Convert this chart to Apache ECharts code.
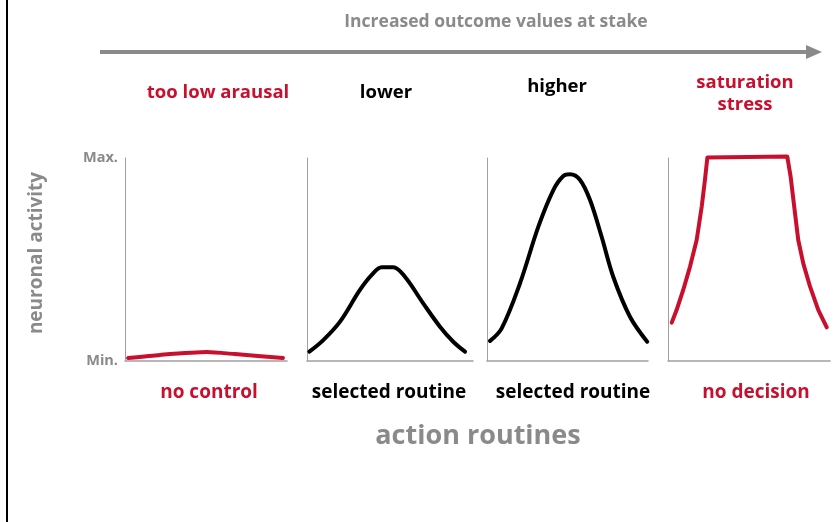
<!DOCTYPE html>
<html><head><meta charset="utf-8">
<script src="https://cdn.jsdelivr.net/npm/echarts@6/dist/echarts.min.js"></script>
<style>html,body{margin:0;padding:0;background:#fff}#c{width:837px;height:522px}</style>
</head><body><div id="c"></div>
<script>
// ---- data ----
const topLabels = ['too low arausal', 'lower', 'higher', 'saturation\nstress'];
const bottomLabels = ['no control', 'selected routine', 'selected routine', 'no decision'];
const yTickLabels = ['Min.', 'Max.'];
const panel1 = [[1.9,1.5],[21.6,3.0],[50.6,4.4],[67.9,3.4],[97.5,1.5]];
const panel2 = [[1.4,4.6],[9.8,10.3],[19.9,19.4],[31.9,35],[39,42.4],[45,46.2],[52,46.2],[59,41.5],[70,28.4],[80.1,16.9],[88.1,9.5],[95.2,4.6]];
const panel3 = [[1.9,9.9],[9.1,16.1],[20.5,38.3],[31.9,66.2],[41.2,84.2],[47.4,91.1],[51.6,92],[57.8,89.2],[64,79.3],[71.2,61.2],[78.4,41.5],[88.8,21.8],[99.5,9.5]];
const panel4 = [[2.3,18.9],[5.3,25.1],[9.4,35.0],[13.6,46.5],[17.7,59.6],[20.8,76.0],[22.8,89.2],[24.3,100.2],[73.6,100.8],[75.7,90.8],[78.4,72.8],[80.4,59.6],[83.5,48.1],[87.7,36.6],[92.8,25.1],[98.0,16.6]];
const panels = [panel1, panel2, panel3, panel4];

// ---- style ----
const RED = '#c8102e', GRAY = '#8a8a8d', AXIS = '#a0a0a0';
const FONT = 'Open Sans';
const lineColors = [RED, '#000', '#000', RED];
const smooths = [0.2, 0.35, 0.35, false];
const grids = [
  {left:125, width:162, top:158, height:203},
  {left:307, width:166, top:158, height:203},
  {left:487, width:161, top:158, height:203},
  {left:668, width:162, top:158, height:203}
];
const topPos = [[218,93],[386,93],[557,87],[745,94]];
const botPos = [209,389,573,756];

const chart = echarts.init(document.getElementById('c'), null, {renderer:'canvas'});
const option = {
  animation:false,
  grid: grids,
  xAxis: grids.map((g,i)=>({gridIndex:i,type:'value',min:0,max:100,
    axisLine:{show:true,lineStyle:{color:AXIS,width:1.5}},axisTick:{show:false},axisLabel:{show:false},splitLine:{show:false}})),
  yAxis: grids.map((g,i)=>({gridIndex:i,type:'value',min:0,max:100,interval:100,
    axisLine:{show:true,lineStyle:{color:AXIS,width:1}},axisTick:{show:false},splitLine:{show:false},
    axisLabel:{show:i===0,color:GRAY,fontFamily:FONT,fontWeight:'bold',fontSize:14.5,margin:7,
      formatter:v=>v===0?yTickLabels[0]:yTickLabels[1]}})),
  series: panels.map((d,i)=>({type:'line',xAxisIndex:i,yAxisIndex:i,data:d,showSymbol:false,clip:false,
    smooth:smooths[i],lineStyle:{color:lineColors[i],width:4,cap:'round',join:'round'}})),
  graphic: [
    {type:'line',shape:{x1:7,y1:0,x2:7,y2:522},style:{stroke:'#000',lineWidth:2}},
    {type:'text',x:496,y:22,style:{text:'Increased outcome values at stake',fill:GRAY,font:'bold 17.5px "'+FONT+'"',textAlign:'center',textVerticalAlign:'middle'}},
    {type:'line',shape:{x1:100,y1:52,x2:812,y2:52},style:{stroke:GRAY,lineWidth:4}},
    {type:'polygon',shape:{points:[[806,45],[822,52],[806,59]]},style:{fill:GRAY}},
    {type:'text',x:37,y:253,rotation:Math.PI/2,style:{text:'neuronal activity',fill:GRAY,font:'bold 19px "'+FONT+'"',textAlign:'center',textVerticalAlign:'middle'}},
    {type:'text',x:478,y:436,style:{text:'action routines',fill:GRAY,font:'bold 27px "'+FONT+'"',textAlign:'center',textVerticalAlign:'middle'}}
  ].concat(topLabels.map((t,i)=>({type:'text',x:topPos[i][0],y:topPos[i][1],
      style:{text:t,fill:lineColors[i],font:'bold 18.5px "'+FONT+'"',textAlign:'center',textVerticalAlign:'middle',lineHeight:22}})))
   .concat(bottomLabels.map((t,i)=>({type:'text',x:botPos[i],y:393,
      style:{text:t,fill:lineColors[i],font:'bold 19px "'+FONT+'"',textAlign:'center',textVerticalAlign:'middle'}})))
};
chart.setOption(option);
</script></body></html>
